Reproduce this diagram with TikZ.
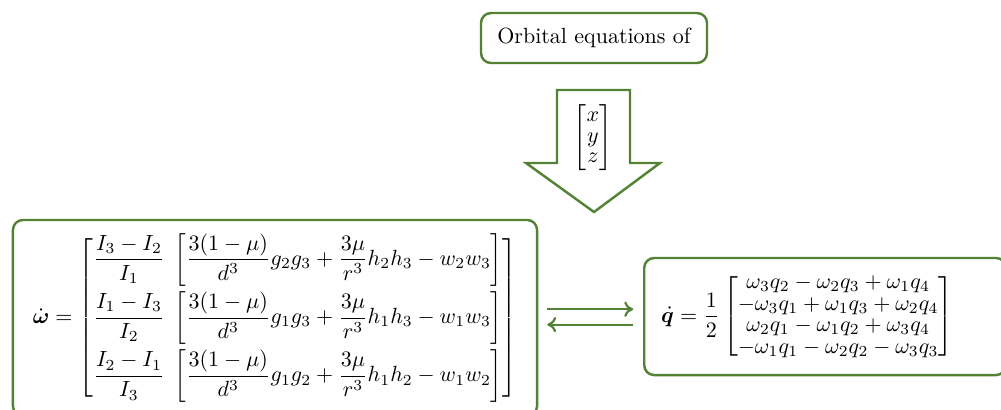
\documentclass[tikz,border=0pt]{standalone}
\usepackage{amsmath,amssymb,bm}
\usetikzlibrary{arrows.meta}
\definecolor{boxgreen}{RGB}{84,130,53}
\tikzset{
  gbox/.style={draw=boxgreen, line width=1.1pt, rounded corners=4.5pt, fill=white},
  blockarrow/.style={draw=boxgreen, line width=1.1pt, fill=white, line join=miter},
  conn/.style={draw=boxgreen, line width=1pt, -{To[length=4pt,width=7pt]}},
}
\begin{document}
\begin{tikzpicture}[x=0.4545pt,y=-0.4545pt]
\useasboundingbox (0,0) rectangle (1001,409);
\clip (0,0) rectangle (1001,409);

\node[gbox, minimum width=102.7pt, minimum height=22.7pt] (top) at (594,38) {Orbital equations of};

\coordinate (a1) at (557,90);
\coordinate (a2) at (630,90);
\coordinate (a3) at (630,163);
\coordinate (a4) at (660,163);
\coordinate (a5) at (594,212);
\coordinate (a6) at (526,163);
\coordinate (a7) at (557,163);
\draw[blockarrow] (a1) -- (a2) -- (a3) -- (a4) -- (a5) -- (a6) -- (a7) -- cycle;
\node (vec) at (593,138) {$\renewcommand{\arraystretch}{0.76}\begin{bmatrix}x\\y\\z\end{bmatrix}$};

\node[gbox, minimum width=238.2pt, minimum height=89.1pt] (L) at (275,318) {$\displaystyle
\dot{\boldsymbol{\omega}} =
\begin{bmatrix}
\dfrac{I_3-I_2}{I_1}\;\left[\dfrac{3(1-\mu)}{d^3}g_2g_3+\dfrac{3\mu}{r^3}h_2h_3-w_2w_3\right]\\\noalign{\vskip 2.5pt}
\dfrac{I_1-I_3}{I_2}\;\left[\dfrac{3(1-\mu)}{d^3}g_1g_3+\dfrac{3\mu}{r^3}h_1h_3-w_1w_3\right]\\\noalign{\vskip 2.5pt}
\dfrac{I_2-I_1}{I_3}\;\left[\dfrac{3(1-\mu)}{d^3}g_1g_2+\dfrac{3\mu}{r^3}h_1h_2-w_1w_2\right]
\end{bmatrix}$};

\node[gbox, anchor=west, inner xsep=7.7pt, text width=149pt, align=left, minimum height=53.2pt] (R) at (643,316.5) {$\displaystyle
\dot{\boldsymbol{q}} = \frac{1}{2}
\renewcommand{\arraystretch}{0.82}
\begin{bmatrix}
\omega_3q_2-\omega_2q_3+\omega_1q_4\\
-\omega_3q_1+\omega_1q_3+\omega_2q_4\\
\omega_2q_1-\omega_1q_2+\omega_3q_4\\
-\omega_1q_1-\omega_2q_2-\omega_3q_3
\end{bmatrix}$};

\draw[conn, shorten <=4.1pt, shorten >=4.5pt] ([yshift=4pt]L.east) -- ([yshift=4pt]L.east -| R.west);
\draw[conn, shorten <=4.5pt, shorten >=4.1pt] ([yshift=-3pt]L.east -| R.west) -- ([yshift=-3pt]L.east);
\end{tikzpicture}
\end{document}
